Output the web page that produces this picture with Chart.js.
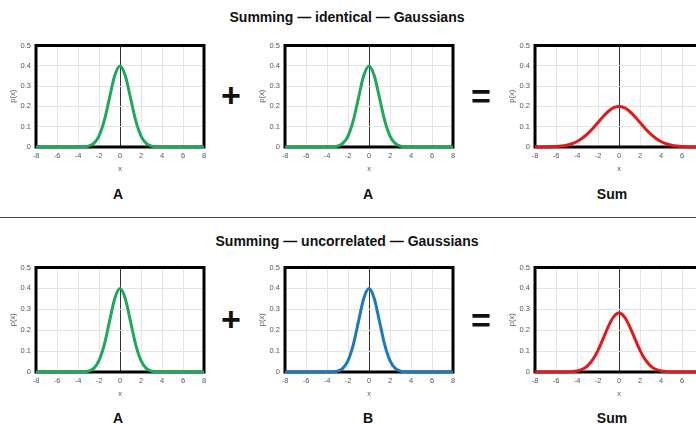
<!DOCTYPE html>
<html>
<head>
<meta charset="utf-8">
<script src="https://cdn.jsdelivr.net/npm/chart.js@4.4.1/dist/chart.umd.min.js"></script>
<style>
html,body{margin:0;padding:0;background:#fff;overflow:hidden;width:696px;height:424px;}
body{position:relative;font-family:"Liberation Sans",Arial,Helvetica,sans-serif;}
canvas{position:absolute;}
.t{position:absolute;font-weight:bold;color:#111;white-space:nowrap;transform:translate(-50%,-50%);line-height:1;}
.title{font-size:14px;}
.lab{font-size:14px;}
.op{font-size:34px;font-weight:900;}
.rule{position:absolute;left:0;width:696px;top:217px;height:0;border-top:1.5px solid #444;}
</style>
</head>
<body>
<div class="t title" style="left:347px;top:17px;">Summing — identical — Gaussians</div>
<div class="t title" style="left:347px;top:241px;">Summing — uncorrelated — Gaussians</div>
<div class="rule"></div>
<div class="t op" style="left:231px;top:95px;">+</div>
<div class="t op" style="left:481px;top:96px;">=</div>
<div class="t op" style="left:231px;top:319px;">+</div>
<div class="t op" style="left:481px;top:320px;">=</div>
<div class="t lab" style="left:118px;top:194px;">A</div>
<div class="t lab" style="left:368px;top:194px;">A</div>
<div class="t lab" style="left:612px;top:194px;">Sum</div>
<div class="t lab" style="left:118px;top:418px;">A</div>
<div class="t lab" style="left:368px;top:418px;">B</div>
<div class="t lab" style="left:612px;top:418px;">Sum</div>

<canvas id="c1"></canvas>
<canvas id="c2"></canvas>
<canvas id="c3"></canvas>
<canvas id="c4"></canvas>
<canvas id="c5"></canvas>
<canvas id="c6"></canvas>

<script>
// ---- data ----
const xValues = [-8,-7.5,-7,-6.5,-6,-5.5,-5,-4.5,-4,-3.5,-3,-2.5,-2,-1.5,-1,-0.5,0,0.5,1,1.5,2,2.5,3,3.5,4,4.5,5,5.5,6,6.5,7,7.5,8];
const curveA = [0,0,0,0,0,0,0,0,0.0001,0.0009,0.0044,0.0175,0.054,0.1295,0.242,0.352,0.399,0.352,0.242,0.1295,0.054,0.0175,0.0044,0.0009,0.0001,0,0,0,0,0,0,0,0];
const curveB = [0,0,0,0,0,0,0,0,0.0001,0.0009,0.0044,0.0175,0.054,0.1295,0.242,0.352,0.399,0.352,0.242,0.1295,0.054,0.0175,0.0044,0.0009,0.0001,0,0,0,0,0,0,0,0];
const sumIdentical = [0.0001,0.0002,0.0004,0.0010,0.0022,0.0045,0.0088,0.0159,0.0270,0.0431,0.0648,0.0913,0.1210,0.1506,0.1760,0.1934,0.1995,0.1934,0.1760,0.1506,0.1210,0.0913,0.0648,0.0431,0.0270,0.0159,0.0088,0.0045,0.0022,0.0010,0.0004,0.0002,0.0001];
const sumUncorrelated = [0,0,0,0,0,0.0001,0.0005,0.0018,0.0052,0.0132,0.0297,0.0591,0.1038,0.1607,0.2197,0.2650,0.2821,0.2650,0.2197,0.1607,0.1038,0.0591,0.0297,0.0132,0.0052,0.0018,0.0005,0.0001,0,0,0,0,0];
const xTicks = [-8,-6,-4,-2,0,2,4,6,8];
const yTicks = [0,0.1,0.2,0.3,0.4,0.5];

const GREEN = '#1fa85a', BLUE = '#1f78b8', RED = '#e01b1b';

const framePlugin = {
  id: 'frame',
  beforeDatasetsDraw(chart) {
    const a = chart.chartArea, ctx = chart.ctx;
    ctx.save();
    ctx.strokeStyle = '#000';
    ctx.lineWidth = 3;
    ctx.strokeRect(a.left, a.top, a.right - a.left, a.bottom - a.top);
    ctx.restore();
  }
};

function makeChart(id, left, top, plotH, ys, color) {
  const cv = document.getElementById(id);
  const W = 215, H = plotH + 37;
  cv.width = W; cv.height = H;
  cv.style.left = left + 'px'; cv.style.top = top + 'px';
  cv.style.width = W + 'px'; cv.style.height = H + 'px';
  const pts = xValues.map((x, i) => ({x: x, y: ys[i]}));
  const tickFont = {family: '"Liberation Sans", Arial, sans-serif', size: 7.5};
  new Chart(cv, {
    type: 'line',
    data: {datasets: [{data: pts, borderColor: color, borderWidth: 3, pointRadius: 0,
      cubicInterpolationMode: 'monotone', fill: false, clip: 6}]},
    options: {
      responsive: false, animation: false, devicePixelRatio: 1,
      layout: {padding: {left: 0, right: W - 36 - 168, top: 8, bottom: 0}},
      plugins: {legend: {display: false}, tooltip: {enabled: false}},
      scales: {
        x: {
          type: 'linear', min: -8, max: 8,
          afterBuildTicks: s => { s.ticks = xTicks.map(v => ({value: v})); },
          afterFit: s => { s.height = H - 8 - plotH; },
          ticks: {font: tickFont, color: '#555', padding: 4, maxRotation: 0, autoSkip: false},
          grid: {drawTicks: false, lineWidth: 1,
            color: c => (c.tick && c.tick.value === 0) ? '#333' : '#e4e4e4'},
          border: {display: false},
          title: {display: true, text: 'x', font: tickFont, color: '#555', padding: {top: 0, bottom: 3}}
        },
        y: {
          type: 'linear', min: 0, max: 0.5,
          afterBuildTicks: s => { s.ticks = yTicks.map(v => ({value: v})); },
          afterFit: s => { s.width = 36; },
          ticks: {font: tickFont, color: '#555', padding: 5, callback: v => String(+v.toFixed(1))},
          grid: {drawTicks: false, lineWidth: 1, color: '#e4e4e4'},
          border: {display: false},
          title: {display: true, text: 'p(x)', font: tickFont, color: '#555', padding: {top: 8, bottom: 0}}
        }
      }
    },
    plugins: [framePlugin]
  });
}

makeChart('c1', 0, 36, 103, curveA, GREEN);
makeChart('c2', 249, 36, 103, curveA, GREEN);
makeChart('c3', 499, 36, 103, sumIdentical, RED);
makeChart('c4', 0, 258, 106, curveA, GREEN);
makeChart('c5', 249, 258, 106, curveB, BLUE);
makeChart('c6', 499, 258, 106, sumUncorrelated, RED);
</script>
</body>
</html>
